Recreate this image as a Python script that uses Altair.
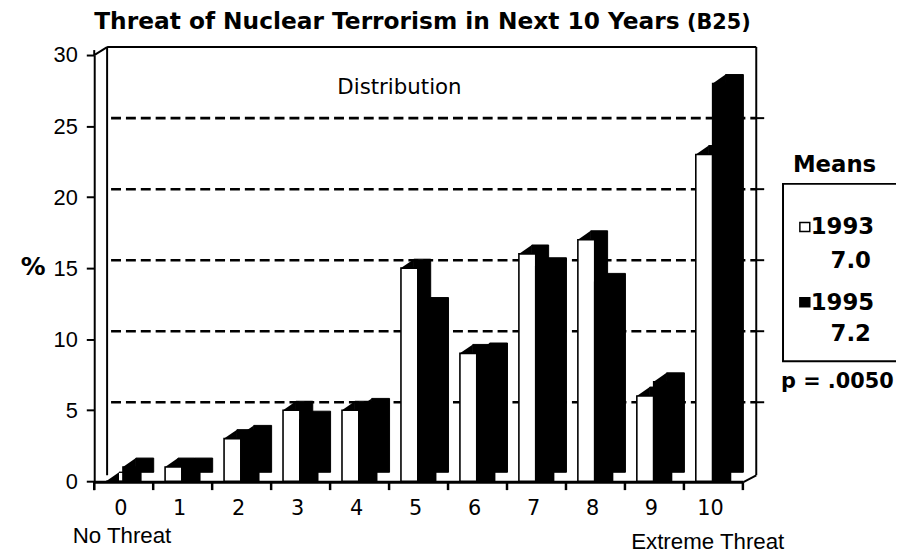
import altair as alt
import pandas as pd

# ---------------- data ----------------
categories = list(range(11))
cat_labels = [str(c) for c in categories]
pct_1993 = [0, 1, 3, 5, 5, 15, 9, 16, 17, 6, 23]
pct_1995 = [1, 1, 3.3, 4.3, 5.2, 12.3, 9.1, 15.1, 14, 7, 28]
y_ticks = [0, 5, 10, 15, 20, 25, 30]
grid_levels = [5, 10, 15, 20, 25, 30]
years = ["1993", "1995"]
mean_values = ["7.0", "7.2"]
p_text = "p = .0050"

# ---------------- geometry / style ----------------
OX, OY = 95, 53          # page position of plot origin
W, H = 668, 430
CAT_W = 59.5
X0 = -0.5
XMAX = X0 + W / CAT_W
DX, DY = 13, -9          # pseudo 3D depth offset (px)
BOLD = "DejaVu Sans"
REG = "Liberation Sans"
TRI = "M -1 0.6923 L 1 -0.6923 L 1 0.6923 Z"   # slanted corner of top face

xscale = alt.Scale(domain=[X0, XMAX], nice=False, zero=False)
yscale = alt.Scale(domain=[0, 30], nice=False)

rows = []
for c, a, b in zip(categories, pct_1993, pct_1995):
    rows.append({"cat": c, "year": years[0], "pct": a,
                 "x0": c - 0.5 + 12 / CAT_W, "x1": c - 0.5 + 29 / CAT_W})
    rows.append({"cat": c, "year": years[1], "pct": b,
                 "x0": c - 0.5 + 29 / CAT_W, "x1": c - 0.5 + 47 / CAT_W})
bars = pd.DataFrame(rows)

yaxis = alt.Axis(values=y_ticks, grid=False, labelFont=REG, labelFontSize=22,
                 labelColor="black", labelPadding=9, tickSize=8, tickWidth=2,
                 tickColor="black", domainColor="black", domainWidth=2,
                 title="%", titleAngle=0, titleFont=BOLD, titleFontSize=25,
                 titleFontWeight="bold", titleColor="black", titleX=33 - OX,
                 titleY=266 - OY, titleAlign="center", titleBaseline="middle")


def Y(field):
    return alt.Y(field, scale=yscale, axis=yaxis)


def bar_layers(year, fill):
    d = bars[bars["year"] == year]
    depth = alt.Chart(d).mark_bar(
        fill="black", stroke="black", strokeWidth=1,
        xOffset=DX, x2Offset=DX, yOffset=DY, y2Offset=DY).encode(
        x=alt.X("x0:Q", scale=xscale, axis=None), x2="x1:Q",
        y=Y("pct:Q"), y2=alt.datum(0))
    corner = alt.Chart(d).mark_point(
        shape=TRI, size=DX * DX, filled=True, fill="black", strokeWidth=0,
        opacity=1, xOffset=DX / 2, yOffset=DY / 2).encode(
        x=alt.X("x0:Q", scale=xscale, axis=None), y=Y("pct:Q"))
    front = alt.Chart(d).mark_bar(fill=fill, stroke="black", strokeWidth=1.6).encode(
        x=alt.X("x0:Q", scale=xscale, axis=None), x2="x1:Q",
        y=Y("pct:Q"), y2=alt.datum(0))
    return [depth, corner, front]


def line(x1, y1, x2, y2, w=2):
    return alt.Chart(pd.DataFrame({"k": [0]})).mark_rule(color="black", strokeWidth=w).encode(
        x=alt.value(x1 - OX), y=alt.value(y1 - OY), x2=alt.value(x2 - OX), y2=alt.value(y2 - OY))


def txt(s, px, py, size, font=REG, bold=False, align="left", baseline="alphabetic"):
    return alt.Chart(pd.DataFrame({"t": [s]})).mark_text(
        align=align, baseline=baseline, font=font, fontSize=size,
        fontWeight="bold" if bold else "normal", color="black").encode(
        x=alt.value(px - OX), y=alt.value(py - OY), text="t:N")


grid_df = pd.DataFrame({"lvl": grid_levels})
grid = alt.Chart(grid_df[grid_df["lvl"] < 30]).mark_rule(
    color="black", strokeWidth=2.6, strokeDash=[10, 5], yOffset=-8).encode(
    y=Y("lvl:Q"),
    x=alt.value(112 - OX), x2=alt.value(763 - OX))
top_wall = alt.Chart(grid_df[grid_df["lvl"] == 30]).mark_rule(
    color="black", strokeWidth=2, yOffset=-8).encode(
    y=Y("lvl:Q"),
    x=alt.value(108 - OX), x2=alt.value(763 - OX))
right_ticks = alt.Chart(grid_df[grid_df["lvl"] < 30]).mark_rule(
    color="black", strokeWidth=2, yOffset=-8).encode(
    y=Y("lvl:Q"),
    x=alt.value(763 - OX), x2=alt.value(771 - OX))

bounds = pd.DataFrame({"b": [c - 0.5 for c in categories] + [categories[-1] + 0.5]})
floor_ticks = alt.Chart(bounds).mark_rule(color="black", strokeWidth=2.5).encode(
    x=alt.X("b:Q", scale=xscale, axis=None),
    y=alt.value(484 - OY), y2=alt.value(492 - OY))

xlab = alt.Chart(pd.DataFrame({"cat": categories, "lab": cat_labels})).mark_text(
    font="DejaVu Sans", fontSize=21, color="black", baseline="middle", xOffset=-3).encode(
    x=alt.X("cat:Q", scale=xscale, axis=None),
    y=alt.value(511 - OY), text="lab:N")

walls = [
    line(108, 45, 108, 477, 2),
    line(95, 53, 108, 45, 2),
    line(95, 48, 95, 53, 2),
    line(763, 45, 763, 477, 2),
    line(763, 477, 750, 484, 2),
    line(95, 484, 750, 484, 3),
    line(95, 483, 95, 492, 2),
]

legend_box = alt.Chart(pd.DataFrame({"k": [0]})).mark_rect(
    fillOpacity=0, stroke="black", strokeWidth=2).encode(
    x=alt.value(790 - OX), x2=alt.value(930 - OX), y=alt.value(183 - OY), y2=alt.value(362 - OY))
icon_a = alt.Chart(pd.DataFrame({"k": [0]})).mark_rect(
    fill="white", stroke="black", strokeWidth=1.5).encode(
    x=alt.value(807 - OX), x2=alt.value(817 - OX), y=alt.value(222 - OY), y2=alt.value(231 - OY))
icon_b = alt.Chart(pd.DataFrame({"k": [0]})).mark_rect(
    fill="black", stroke="black", strokeWidth=1.5).encode(
    x=alt.value(807 - OX), x2=alt.value(817 - OX), y=alt.value(298 - OY), y2=alt.value(307 - OY))

texts = [
    txt("Threat of Nuclear Terrorism in Next 10 Years", 95, 27, 23.5, BOLD, True),
    txt("(B25)", 693, 27, 21, BOLD, True),
    txt("Distribution", 403, 86, 21.5, "DejaVu Sans", False, "center", "middle"),
    txt("No Threat", 123, 545, 22.5, REG, False, "center"),
    txt("Extreme Threat", 714, 551, 22.5, REG, False, "center"),
    txt("Means", 842, 164, 23, BOLD, True, "center", "middle"),
    txt(years[0], 818, 227, 23, BOLD, True, "left", "middle"),
    txt(mean_values[0], 838, 261, 23, BOLD, True, "left", "middle"),
    txt(years[1], 818, 303, 23, BOLD, True, "left", "middle"),
    txt(mean_values[1], 838, 335, 23, BOLD, True, "left", "middle"),
    txt(p_text, 788, 383, 21, BOLD, True, "left", "middle"),
]

chart = alt.layer(
    grid, top_wall, right_ticks, *walls, floor_ticks,
    *bar_layers(years[0], "white"),
    *bar_layers(years[1], "black"),
    xlab, legend_box, icon_a, icon_b, *texts,
).properties(
    width=W, height=H,
    autosize=alt.AutoSizeParams(type="none"),
    padding={"left": 87, "top": 45, "right": 141, "bottom": 72},
    background="white",
).configure_view(stroke=None)

chart.save("out.html", embed_options={"renderer": "svg", "actions": False})
